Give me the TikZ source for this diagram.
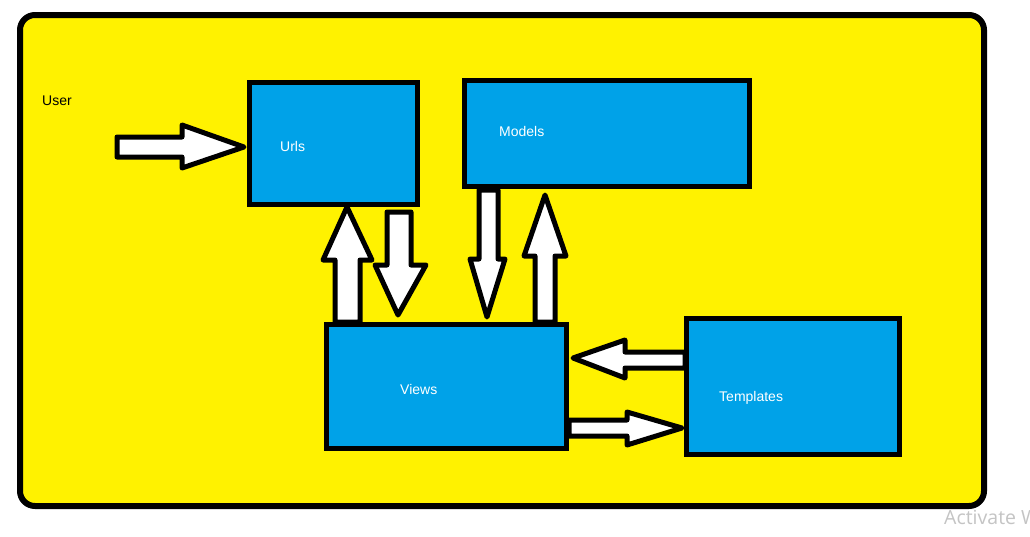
\documentclass[tikz,border=0pt]{standalone}
\usepackage{fontspec}
\setmainfont{Liberation Sans}
\newfontfamily\wmfont{Open Sans}
\definecolor{paintyellow}{HTML}{FFF200}
\definecolor{paintblue}{HTML}{00A2E8}
\definecolor{wmgrey}{HTML}{C4C4C4}
\tikzset{
  frame/.style={draw=black, line width=6pt, fill=paintyellow, rounded corners=15pt},
  box/.style={draw=black, line width=5pt, fill=paintblue, inner sep=0pt, outer sep=0pt},
  blockarrow/.style={draw=black, line width=5pt, fill=white, line join=round},
  lbl/.style={anchor=west, inner sep=0pt, font=\fontsize{14}{16}\selectfont},
  wlbl/.style={lbl, text=white},
}
\begin{document}
\begin{tikzpicture}[x=1pt,y=-1pt]
\useasboundingbox (0,0) rectangle (1030,536);
\fill[white] (0,0) rectangle (1030,536);
% outer frame
\draw[frame] (20,15) rectangle (984,506);
% labels outside boxes
\node[lbl] (user) at (42,101) {User};
% block arrows
\draw[blockarrow] (117,137) -- (182,137) -- (182,125) -- (244,147) -- (182,168) -- (182,157) -- (117,157) -- cycle;
\draw[blockarrow] (335,322) -- (335,260) -- (323,260) -- (347,207) -- (372,260) -- (360,260) -- (360,322) -- cycle;
\draw[blockarrow] (387,212) -- (411,212) -- (411,265) -- (426,265) -- (398,315) -- (375,265) -- (387,265) -- cycle;
\draw[blockarrow] (479,190) -- (498,190) -- (498,259) -- (505,259) -- (487,317) -- (470,259) -- (479,259) -- cycle;
\draw[blockarrow] (535,322) -- (535,256) -- (524,256) -- (545,195) -- (566,256) -- (555,256) -- (555,322) -- cycle;
\draw[blockarrow] (685,352) -- (625,352) -- (625,340) -- (573,358) -- (625,378) -- (625,368) -- (685,368) -- cycle;
\draw[blockarrow] (569,420) -- (627,420) -- (627,412) -- (682,428) -- (627,445) -- (627,436) -- (569,436) -- cycle;
% boxes
\node[box, minimum width=168pt, minimum height=122pt] (urls) at (333.5,143.5) {};
\node[box, minimum width=285pt, minimum height=106pt] (models) at (607,133.5) {};
\node[box, minimum width=240pt, minimum height=124pt] (views) at (446.5,386.5) {};
\node[box, minimum width=213pt, minimum height=136pt] (templates) at (793,386.5) {};
% box labels
\node[wlbl] (lurls) at (280,146) {Urls};
\node[wlbl] (lmodels) at (499,131) {Models};
\node[wlbl] (lviews) at (400,389) {Views};
\node[wlbl] (ltemplates) at (719,398) {Templates};
% watermark (cut at the right edge, as in the reference)
\begin{scope}
\clip (0,0) rectangle (1030,536);
\node[anchor=base west, inner sep=0pt, text=wmgrey, font=\wmfont\fontsize{19.5}{22}\selectfont] (wm) at (944,524) {Activate Windows};
\end{scope}
\end{tikzpicture}
\end{document}
